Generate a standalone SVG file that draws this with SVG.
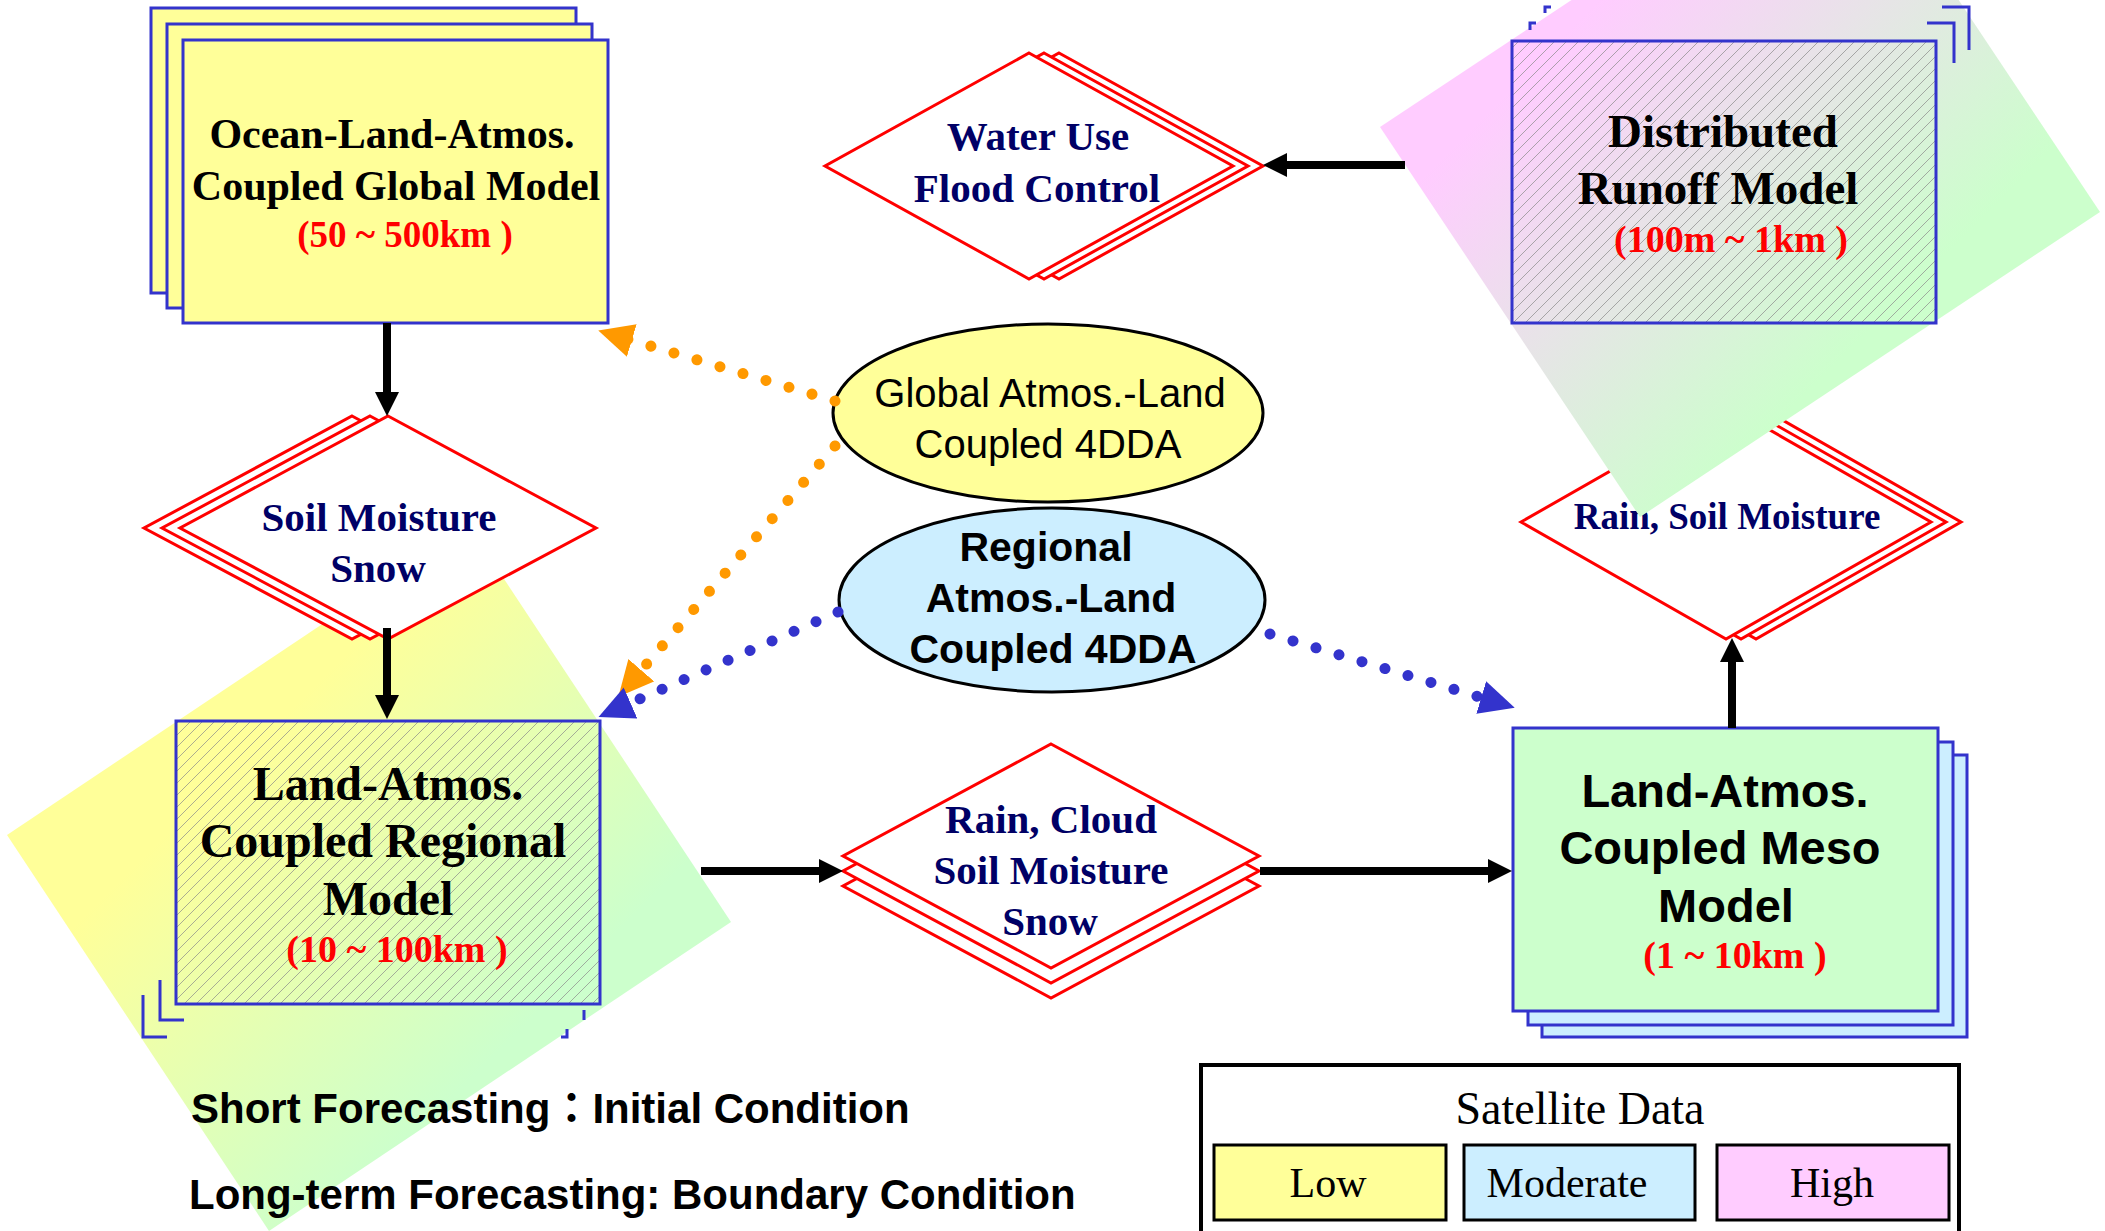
<svg xmlns="http://www.w3.org/2000/svg" width="2105" height="1231" viewBox="0 0 2105 1231">
<style>
.box{stroke:#3333cc;stroke-width:3}
.brk{fill:none;stroke:#3333cc;stroke-width:3}
.dia{fill:#fff;stroke:#ff0000;stroke-width:3;stroke-linejoin:miter}
.serif{font-family:"Liberation Serif","Times New Roman",serif;font-weight:bold;text-anchor:middle}
.sans{font-family:"Liberation Sans",Arial,sans-serif;text-anchor:middle}
.navy{fill:#000066}
.red{fill:#ff0000}
.blk{fill:#000}
.arr{stroke:#000;stroke-width:8;fill:none}
.dots{fill:none;stroke-width:11;stroke-linecap:round;stroke-dasharray:0.01 24}
</style>
<defs>
<linearGradient id="gYG" gradientUnits="userSpaceOnUse" x1="450" y1="550" x2="725" y2="825">
<stop offset="0" stop-color="#ffff99"/><stop offset="1" stop-color="#ccffcc"/>
</linearGradient>
<linearGradient id="gPG" gradientUnits="userSpaceOnUse" x1="1300" y1="300" x2="1600" y2="600">
<stop offset="0" stop-color="#ffccff"/><stop offset="1" stop-color="#ccffcc"/>
</linearGradient>
<pattern id="hatch" patternUnits="userSpaceOnUse" width="12" height="12">
<path d="M-3,3 L3,-3 M0,12 L12,0 M9,15 L15,9" stroke="#8a8a8a" stroke-width="0.7"/>
</pattern>
<marker id="ah" markerUnits="userSpaceOnUse" markerWidth="26" markerHeight="26" refX="2" refY="12" orient="auto">
<path d="M0,0 L24,12 L0,24 z" fill="#000"/>
</marker>
<marker id="ahO" markerUnits="userSpaceOnUse" markerWidth="36" markerHeight="36" refX="5" refY="17" orient="auto">
<path d="M0,0 L35,17 L0,34 z" fill="#ff9900"/>
</marker>
<marker id="ahB" markerUnits="userSpaceOnUse" markerWidth="36" markerHeight="36" refX="5" refY="17" orient="auto">
<path d="M0,0 L35,17 L0,34 z" fill="#3333cc"/>
</marker>
</defs>
<rect x="0" y="0" width="2105" height="1231" fill="#fff"/>

<g id="regional-model">
<polygon points="469,526 731,922 269,1231 7,835" fill="url(#gYG)"/>
<path class="brk" d="M160,980 V1020 H184 M143,995 V1037 H167 M584,1010 V1020 M567,1029 V1037 H561"/>
<rect class="box" x="176" y="721" width="424" height="283" fill="url(#hatch)"/>
<text class="serif blk" font-size="48" x="388" y="800">Land-Atmos.</text>
<text class="serif blk" font-size="48" x="383" y="857">Coupled Regional</text>
<text class="serif blk" font-size="48" x="388" y="915">Model</text>
<text class="serif red" font-size="38" x="397" y="962">(10 ~ 100km )</text>
</g>

<g id="global-model">
<rect class="box" x="151" y="8" width="425" height="285" fill="#ffff99"/>
<rect class="box" x="167" y="24" width="425" height="284" fill="#ffff99"/>
<rect class="box" x="183" y="40" width="425" height="283" fill="#ffff99"/>
<text class="serif blk" font-size="42" x="392" y="148">Ocean-Land-Atmos.</text>
<text class="serif blk" font-size="42" x="396" y="200">Coupled Global Model</text>
<text class="serif red" font-size="37" x="405" y="247">(50 ~ 500km )</text>
</g>

<g id="soil-snow">
<polygon class="dia" points="352,416 560,528 352,639 144,528"/>
<polygon class="dia" points="370,416 578,528 370,639 162,528"/>
<polygon class="dia" points="388,416 596,528 388,639 180,528"/>
<text class="serif navy" font-size="41" x="379" y="531">Soil Moisture</text>
<text class="serif navy" font-size="41" x="378" y="582">Snow</text>
</g>

<g id="water-use">
<polygon class="dia" points="1059,53 1263,166 1059,279 855,166"/>
<polygon class="dia" points="1044,53 1248,166 1044,279 840,166"/>
<polygon class="dia" points="1029,53 1233,166 1029,279 825,166"/>
<text class="serif navy" font-size="41" x="1038" y="150">Water Use</text>
<text class="serif navy" font-size="41" x="1037" y="202">Flood Control</text>
</g>

<g id="rain-cloud">
<polygon class="dia" points="1051,774 1259,886 1051,998 843,886"/>
<polygon class="dia" points="1051,759 1259,871 1051,983 843,871"/>
<polygon class="dia" points="1051,744 1259,856 1051,968 843,856"/>
<text class="serif navy" font-size="41" x="1051" y="833">Rain, Cloud</text>
<text class="serif navy" font-size="41" x="1051" y="884">Soil Moisture</text>
<text class="serif navy" font-size="41" x="1050" y="935">Snow</text>
</g>

<g id="rain-soil">
<polygon class="dia" points="1756,405 1961,522 1756,639 1551,522"/>
<polygon class="dia" points="1741,405 1946,522 1741,639 1536,522"/>
<polygon class="dia" points="1726,405 1931,522 1726,639 1521,522"/>
<text class="serif navy" font-size="37" x="1727" y="529">Rain, Soil Moisture</text>
</g>

<g id="distributed-model">
<polygon points="1840,-178 2100,212 1640,517 1380,127" fill="url(#gPG)"/>
<path class="brk" d="M1927,23 H1954 V63 M1942,7 H1969 V50 M1530,30 V23 H1536 M1545,13 V7 H1551"/>
<rect class="box" x="1512" y="41" width="424" height="282" fill="url(#hatch)"/>
<text class="serif blk" font-size="47" x="1723" y="147">Distributed</text>
<text class="serif blk" font-size="47" x="1718" y="204">Runoff Model</text>
<text class="serif red" font-size="38" x="1731" y="252">(100m ~ 1km )</text>
</g>

<g id="meso-model">
<rect class="box" x="1542" y="755" width="425" height="282" fill="#cceeff"/>
<rect class="box" x="1528" y="742" width="425" height="283" fill="#cceeff"/>
<rect class="box" x="1513" y="728" width="425" height="283" fill="#ccffcc"/>
<text class="sans blk" font-size="47" font-weight="bold" x="1725" y="807">Land-Atmos.</text>
<text class="sans blk" font-size="47" font-weight="bold" x="1720" y="864">Coupled Meso</text>
<text class="sans blk" font-size="47" font-weight="bold" x="1726" y="922">Model</text>
<text class="serif red" font-size="38" x="1735" y="968">(1 ~ 10km )</text>
</g>

<g id="global-4dda">
<ellipse cx="1048" cy="413" rx="215" ry="89" fill="#ffff99" stroke="#000" stroke-width="3"/>
<text class="sans blk" font-size="40" x="1050" y="407">Global Atmos.-Land</text>
<text class="sans blk" font-size="40" x="1048" y="458">Coupled 4DDA</text>
</g>

<g id="regional-4dda">
<ellipse cx="1052" cy="600" rx="213" ry="92" fill="#cceeff" stroke="#000" stroke-width="3"/>
<text class="sans blk" font-size="41" font-weight="bold" x="1046" y="561">Regional</text>
<text class="sans blk" font-size="41" font-weight="bold" x="1051" y="612">Atmos.-Land</text>
<text class="sans blk" font-size="41" font-weight="bold" x="1053" y="663">Coupled 4DDA</text>
</g>

<g id="legend">
<rect x="1201" y="1065" width="758" height="180" fill="#fff" stroke="#000" stroke-width="4"/>
<text font-family="Liberation Serif, Times New Roman, serif" font-size="46" text-anchor="middle" x="1580" y="1124">Satellite Data</text>
<rect x="1214" y="1145" width="232" height="75" fill="#ffff99" stroke="#000" stroke-width="3"/>
<rect x="1464" y="1145" width="231" height="75" fill="#cceeff" stroke="#000" stroke-width="3"/>
<rect x="1717" y="1145" width="232" height="75" fill="#ffccff" stroke="#000" stroke-width="3"/>
<text font-family="Liberation Serif, Times New Roman, serif" font-size="42" text-anchor="middle" x="1328" y="1197">Low</text>
<text font-family="Liberation Serif, Times New Roman, serif" font-size="42" text-anchor="middle" x="1567" y="1197">Moderate</text>
<text font-family="Liberation Serif, Times New Roman, serif" font-size="42" text-anchor="middle" x="1832" y="1197">High</text>
</g>

<g id="notes">
<text font-family="Liberation Sans, Arial, 'Noto Sans CJK JP', sans-serif" font-weight="bold" font-size="42" x="191" y="1123">Short Forecasting：Initial Condition</text>
<text font-family="Liberation Sans, Arial, sans-serif" font-weight="bold" font-size="42" x="189" y="1209">Long-term Forecasting: Boundary Condition</text>
</g>

<g id="connectors">
<line class="arr" x1="387" y1="323" x2="387" y2="394" marker-end="url(#ah)"/>
<line class="arr" x1="387" y1="628" x2="387" y2="697" marker-end="url(#ah)"/>
<line class="arr" x1="701" y1="871" x2="821" y2="871" marker-end="url(#ah)"/>
<line class="arr" x1="1260" y1="871" x2="1490" y2="871" marker-end="url(#ah)"/>
<line class="arr" x1="1732" y1="728" x2="1732" y2="660" marker-end="url(#ah)"/>
<line class="arr" x1="1405" y1="165" x2="1285" y2="165" marker-end="url(#ah)"/>
<line class="dots" stroke="#ff9900" x1="835" y1="401" x2="627" y2="339" marker-end="url(#ahO)"/>
<line class="dots" stroke="#ff9900" x1="835" y1="446" x2="638" y2="674" marker-end="url(#ahO)"/>
<line class="dots" stroke="#3333cc" x1="838" y1="612" x2="626" y2="705" marker-end="url(#ahB)"/>
<line class="dots" stroke="#3333cc" x1="1270" y1="634" x2="1486" y2="699" marker-end="url(#ahB)"/>
</g>
</svg>
